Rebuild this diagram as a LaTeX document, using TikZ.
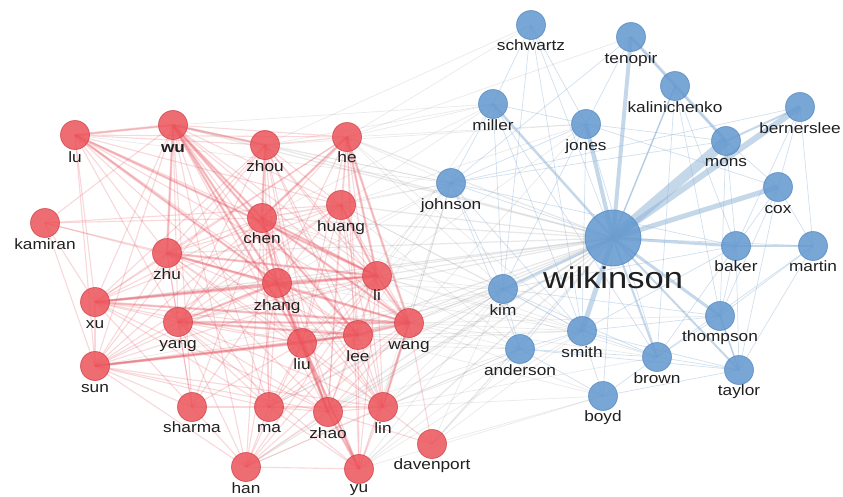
\documentclass[tikz,border=0pt]{standalone}
\usepackage{fontspec}
\setmainfont[FakeStretch=1.15]{Liberation Sans}
\usetikzlibrary{backgrounds}
\definecolor{rednode}{RGB}{236,84,90}
\definecolor{redborder}{RGB}{205,58,66}
\definecolor{bluenode}{RGB}{102,154,208}
\definecolor{blueborder}{RGB}{80,132,190}
\definecolor{rededge}{RGB}{230,80,92}
\definecolor{blueedge}{RGB}{140,178,215}
\definecolor{grayedge}{RGB}{140,140,140}
\definecolor{labeltext}{RGB}{32,32,32}
\tikzset{
  rn/.style={circle, minimum size=29pt, inner sep=0pt, fill=rednode, fill opacity=0.85, draw=redborder, draw opacity=0.7, line width=0.8pt},
  bn/.style={circle, minimum size=29pt, inner sep=0pt, fill=bluenode, fill opacity=0.88, draw=blueborder, draw opacity=0.7, line width=0.8pt},
  bigbn/.style={bn, minimum size=56pt},
  lbl/.style={text=labeltext, font=\fontsize{15}{15}\selectfont, inner sep=0pt, anchor=base},
  biglbl/.style={lbl, font=\fontsize{30}{30}\selectfont},
  rew/.style={draw=rededge, line width=1.1pt, opacity=0.22},
  res/.style={draw=rededge, line width=2.4pt, opacity=0.28},
  gew/.style={draw=grayedge, line width=0.7pt, opacity=0.18},
  ges/.style={draw=grayedge, line width=1.2pt, opacity=0.2},
  bew/.style={draw=blueedge, line width=0.7pt, opacity=0.4},
  bes/.style={draw=blueedge, opacity=0.5}
}
\begin{document}
\begin{tikzpicture}[x=1pt,y=-1pt]
\useasboundingbox (0,0) rectangle (843,496);
% red nodes
\foreach \n/\x/\y in {lu/75/135, wu/173/125, zhou/265/145, he/347/137, kamiran/45/223,
  huang/341/205, chen/262/218, zhu/167/253, li/377/276, zhang/277/283, xu/95/302,
  yang/178/322, lee/358/335, wang/409/323, liu/302/343, sun/95/366, sharma/192/407,
  ma/269/407, zhao/328/412, lin/383/407, davenport/432/444, han/246/467, yu/359/469}
  \node[rn] (\n) at (\x,\y) {};
% blue nodes
\foreach \n/\x/\y in {schwartz/531/25, tenopir/631/37, kalinichenko/675/86, miller/493/104,
  bernerslee/800/107, jones/586/124, mons/726/141, johnson/451/183, cox/778/187,
  baker/736/246, martin/813/246, kim/503/289, thompson/720/316, smith/582/331,
  anderson/520/349, brown/657/357, taylor/739/370, boyd/603/396}
  \node[bn] (\n) at (\x,\y) {};
\node[bigbn] (wilkinson) at (613,238) {};
% labels
\foreach \n/\x/\y in {lu/75/162, zhou/265/171, he/347/162, kamiran/45/249,
  huang/341/231, chen/262/243, zhu/167/279, li/377/300, zhang/277/310, xu/95/328,
  yang/178/348, lee/358/361, wang/409/349, liu/302/369, sun/95/392, sharma/192/432,
  ma/269/432, zhao/328/438, lin/383/433, davenport/432/469, han/246/493, yu/359/492,
  schwartz/531/50, tenopir/631/63, kalinichenko/675/112, miller/493/130,
  bernerslee/800/133, jones/586/150, mons/726/166, johnson/451/209, cox/778/213,
  baker/736/271, martin/813/271, kim/503/315, thompson/720/341, smith/582/357,
  anderson/520/375, brown/657/383, taylor/739/395, boyd/603/421}
  \node[lbl] (\n-l) at (\x,\y) {\n};
\node[lbl, font=\fontsize{15}{15}\selectfont\bfseries] (wu-l) at (173,152) {wu};
\node[biglbl] (wilkinson-l) at (613,288) {wilkinson};
\begin{scope}[on background layer]
\fill[white] (0,0) rectangle (843,496);
% gray cross edges
\foreach \a/\b in {he/johnson, he/miller, he/jones, he/schwartz, he/kim, he/smith,
  zhou/johnson, zhou/miller, zhou/jones, zhou/schwartz, huang/johnson, huang/kim, huang/jones,
  huang/smith, huang/anderson, chen/johnson, chen/kim, chen/smith, li/johnson, li/kim,
  li/smith, li/anderson, li/jones, li/miller, li/brown, wang/johnson, wang/kim, wang/smith,
  wang/anderson, wang/boyd, wang/brown, wang/jones, lee/kim, lee/johnson, lee/smith,
  lee/anderson, zhang/johnson, zhang/kim, liu/kim, liu/anderson, liu/smith, lin/kim,
  lin/anderson, lin/smith, lin/johnson, lin/boyd, zhao/kim, zhao/anderson, yu/kim,
  yu/anderson, yu/boyd, yu/smith, yu/johnson, davenport/anderson, davenport/kim,
  davenport/boyd, davenport/smith, wu/johnson, wu/miller, lu/johnson, han/anderson,
  ma/kim, yang/johnson, sun/kim, he/tenopir, wang/thompson, lin/brown, chen/miller,
  huang/miller, zhang/smith, liu/johnson, lee/boyd, han/kim}
  \draw[gew] (\a.center) -- (\b.center);
\foreach \a/\b in {he/wilkinson, zhou/wilkinson, huang/wilkinson, chen/wilkinson,
  li/wilkinson, wang/wilkinson, lee/wilkinson, zhang/wilkinson, liu/wilkinson,
  lin/wilkinson, zhao/wilkinson, yu/wilkinson, davenport/wilkinson, wu/wilkinson,
  han/wilkinson, ma/wilkinson, yang/wilkinson, xu/wilkinson, zhu/wilkinson}
  \draw[ges] (\a.center) -- (\b.center);
% red weak edges
\foreach \a/\b in {lu/wu, lu/zhou, lu/he, lu/chen, lu/zhu, lu/zhang, lu/xu, lu/yang,
  lu/liu, lu/li, lu/wang, lu/lee, lu/huang, lu/sun,
  wu/zhou, wu/he, wu/huang, wu/chen, wu/zhu, wu/li, wu/zhang, wu/xu, wu/yang, wu/lee,
  wu/wang, wu/liu, wu/sun, wu/ma, wu/zhao, wu/lin, wu/kamiran, wu/sharma, wu/han,
  zhou/he, zhou/huang, zhou/chen, zhou/zhu, zhou/li, zhou/zhang, zhou/xu, zhou/yang,
  zhou/lee, zhou/wang, zhou/liu, zhou/sun, zhou/ma, zhou/zhao, zhou/lin,
  he/huang, he/chen, he/zhu, he/li, he/zhang, he/lee, he/wang, he/liu, he/yang, he/xu,
  he/zhao, he/lin, he/yu,
  kamiran/chen, kamiran/huang, kamiran/zhu, kamiran/zhang, kamiran/xu, kamiran/sun,
  huang/chen, huang/zhu, huang/li, huang/zhang, huang/xu, huang/yang, huang/lee,
  huang/wang, huang/liu, huang/sun, huang/zhao, huang/lin,
  chen/zhu, chen/li, chen/zhang, chen/xu, chen/yang, chen/lee, chen/wang, chen/liu,
  chen/sun, chen/ma, chen/zhao, chen/lin, chen/yu, chen/han, chen/sharma,
  zhu/li, zhu/zhang, zhu/xu, zhu/yang, zhu/lee, zhu/wang, zhu/liu, zhu/sun, zhu/ma,
  zhu/zhao, zhu/lin, zhu/sharma,
  li/zhang, li/xu, li/yang, li/lee, li/wang, li/liu, li/sun, li/ma, li/zhao, li/lin,
  li/yu, li/han,
  zhang/xu, zhang/yang, zhang/lee, zhang/wang, zhang/liu, zhang/sun, zhang/sharma,
  zhang/ma, zhang/zhao, zhang/lin, zhang/yu, zhang/han,
  xu/yang, xu/lee, xu/wang, xu/liu, xu/sun, xu/sharma, xu/ma, xu/zhao,
  yang/lee, yang/wang, yang/liu, yang/sun, yang/sharma, yang/ma, yang/zhao, yang/lin,
  yang/han, yang/yu,
  lee/wang, lee/liu, lee/sun, lee/ma, lee/zhao, lee/lin, lee/yu, lee/han,
  wang/liu, wang/sun, wang/ma, wang/zhao, wang/lin, wang/yu, wang/han, wang/davenport,
  liu/sun, liu/ma, liu/zhao, liu/lin, liu/yu, liu/han, liu/sharma,
  sun/ma, sun/zhao, sun/lin, sun/sharma, sun/han,
  sharma/ma, sharma/han, ma/zhao, ma/lin, ma/han, ma/yu,
  zhao/lin, zhao/yu, zhao/han, zhao/davenport, lin/yu, lin/davenport, lin/han, han/yu}
  \draw[rew] (\a.center) -- (\b.center);
% red strong edges
\foreach \a/\b in {lu/wu, wu/zhou, wu/chen, wu/zhang, wu/zhu, wu/liu, wu/lee, lu/zhang,
  lu/li, xu/zhang, xu/li, xu/wang, yang/wang, yang/lee, yang/zhang, sun/liu, sun/lee,
  zhang/li, zhang/liu, zhang/zhao, chen/zhang, chen/li, chen/wang, huang/li, he/li,
  he/wang, liu/lee, lee/wang, li/wang, liu/zhao, zhao/yu, lin/wang, liu/yu, zhou/chen,
  zhu/li, zhu/wang, he/chen}
  \draw[res] (\a.center) -- (\b.center);
% blue weak edges
\foreach \a/\b in {wilkinson/schwartz, wilkinson/kalinichenko, wilkinson/johnson,
  wilkinson/anderson, wilkinson/boyd, wilkinson/martin,
  schwartz/miller, schwartz/jones, schwartz/kim, schwartz/smith, tenopir/jones,
  tenopir/kalinichenko, tenopir/johnson, kalinichenko/mons, kalinichenko/baker,
  kalinichenko/thompson, kalinichenko/brown, miller/johnson, miller/kim, miller/smith,
  miller/jones, jones/johnson, jones/kim, jones/mons, jones/cox, jones/brown,
  mons/cox, mons/baker, mons/thompson, mons/johnson, bernerslee/cox,
  bernerslee/baker, bernerslee/martin, bernerslee/johnson, cox/martin, cox/baker,
  cox/thompson, cox/taylor, baker/thompson, baker/taylor, baker/brown, baker/smith,
  martin/thompson, martin/taylor, martin/brown, johnson/kim, johnson/smith,
  johnson/anderson, johnson/baker, kim/smith, kim/anderson, kim/brown, kim/thompson,
  kim/baker, smith/anderson, smith/brown, smith/boyd, smith/taylor, smith/thompson,
  anderson/boyd, anderson/brown, anderson/taylor, brown/taylor, brown/thompson,
  brown/boyd, thompson/taylor, taylor/boyd, miller/brown, jones/smith}
  \draw[bew] (\a.center) -- (\b.center);
% blue strong edges
\foreach \a/\b/\w in {wilkinson/mons/10, wilkinson/bernerslee/6, wilkinson/cox/5,
  wilkinson/tenopir/4, wilkinson/jones/4, wilkinson/smith/5, wilkinson/baker/3,
  baker/martin/2.5, wilkinson/thompson/3, wilkinson/kim/2.5, wilkinson/miller/2.5,
  wilkinson/brown/2, wilkinson/taylor/2, tenopir/mons/3, mons/bernerslee/2,
  wilkinson/kalinichenko/1.5, thompson/taylor/1.5}
  \draw[bes, line width=\w pt] (\a.center) -- (\b.center);
\end{scope}
\end{tikzpicture}
\end{document}
